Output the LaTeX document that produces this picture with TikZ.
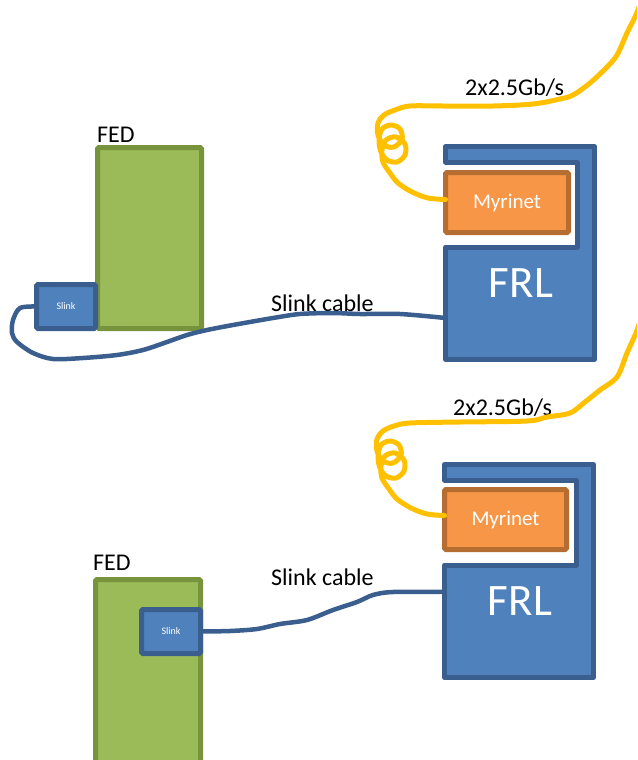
\documentclass[tikz,border=0pt]{standalone}
\usepackage{fontspec}
\setmainfont{Carlito}
\usetikzlibrary{calc}

\definecolor{fedfill}{HTML}{9BBB59}
\definecolor{fedline}{HTML}{77933C}
\definecolor{blufill}{HTML}{4F81BD}
\definecolor{bluline}{HTML}{3A5F8E}
\definecolor{orgfill}{HTML}{F79646}
\definecolor{orgline}{HTML}{B66D31}
\definecolor{fibre}{HTML}{FFC000}

\tikzset{
  fedbox/.style={draw=fedline, fill=fedfill, line width=5pt, rounded corners=1.5pt,
    inner sep=0pt, outer sep=0pt},
  slinkbox/.style={draw=bluline, fill=blufill, line width=5pt, rounded corners=1.5pt,
    inner sep=0pt, outer sep=0pt, minimum width=59pt, minimum height=44pt,
    text=white, font=\fontsize{10}{12}\selectfont},
  myrbox/.style={draw=orgline, fill=orgfill, line width=5pt, rounded corners=1.5pt,
    inner sep=0pt, outer sep=0pt, text=white, font=\fontsize{21}{24}\selectfont},
  frlshape/.style={draw=bluline, fill=blufill, line width=5pt, line join=round},
  frltext/.style={text=white, inner sep=0pt, font=\fontsize{45}{50}\selectfont},
  lbl/.style={inner sep=0pt, anchor=base west, font=\fontsize{24}{28}\selectfont},
  slinkcable/.style={draw=bluline, line width=4.5pt, line cap=round, line join=round},
  fibrecable/.style={draw=fibre, line width=5pt, line cap=round, line join=round}
}

\begin{document}
\begin{tikzpicture}[x=1pt, y=-1pt]
\useasboundingbox (0,0) rectangle (637,760);
\clip (0,0) rectangle (637,760);

% ---------------- upper set-up: Slink mounted beside the FED ----------------
\node[fedbox, minimum width=104pt, minimum height=181pt] (fedA) at (149.5,238) {};
\node[lbl] (fedAlbl) at (97,142) {FED};
\node[slinkbox] (slinkA) at (66,306.5) {Slink};

\draw[frlshape] (445.5,146.5) -- (594.5,146.5) -- (594.5,359.5) -- (445.5,359.5)
  -- (445.5,247) -- (577,247) -- (577,162) -- (445.5,162) -- cycle;
\node[frltext] (frlA) at (521,283) {FRL};
\coordinate (frlAin) at (445.5,318);
\node[myrbox, minimum width=123pt, minimum height=60pt] (myrA) at (507,202.5) {Myrinet};

\node[lbl] (cabAlbl) at (271,311) {Slink cable};
\node[lbl] (fibAlbl) at (465,95) {2x2.5Gb/s};

\draw[slinkcable] plot[smooth, tension=0.5] coordinates {
  (slinkA.west) (20,308) (13,320) (12,333) (17,342) (33,353) (53,359) (83,358)
  (117,355) (143,350) (167,342) (187,335) (207,330) (233,325) (273,318)
  (300,314) (333,313) (360,314) (400,314) (frlAin)};

\coordinate (fibAend) at (641,2);
\draw[fibrecable] plot[smooth, tension=0.55] coordinates {
  (fibAend) (635,17) (627,33) (617,55) (607,67) (590,83) (573,95) (560,99)
  (533,104) (493,106) (443,106) (410,106) (395,110) (384,115) (378,123)
  (378,135) (384,145) (394,147) (402,139) (400,129) (391,125) (382,129)
  (379,140) (381,152) (387,160) (397,162) (405,155) (405,144) (396,137)
  (386,140) (382,150) (383,162) (390,173) (398,183) (412,192) (428,198)
  ($(myrA.west)+(0,-3)$)};

% ---------------- lower set-up: Slink plugged into the FED ----------------
\node[fedbox, minimum width=105pt, minimum height=220pt] (fedB) at (148,689.5) {};
\node[lbl] (fedBlbl) at (93,570) {FED};
\node[slinkbox] (slinkB) at (171,631.5) {Slink};

\draw[frlshape] (444.5,464.5) -- (593.5,464.5) -- (593.5,677.5) -- (444.5,677.5)
  -- (444.5,565) -- (576,565) -- (576,480) -- (444.5,480) -- cycle;
\node[frltext] (frlB) at (520,601) {FRL};
\coordinate (frlBin) at (444.5,592);
\node[myrbox, minimum width=122pt, minimum height=60pt] (myrB) at (505.5,519.5) {Myrinet};

\node[lbl] (cabBlbl) at (271,585) {Slink cable};
\node[lbl] (fibBlbl) at (453,415) {2x2.5Gb/s};

\draw[slinkcable] plot[smooth, tension=0.5] coordinates {
  (slinkB.east) (230,631) (257,629) (280,624) (307,620) (333,610) (357,602)
  (373,595) (393,592) (frlBin)};

\coordinate (fibBend) at (641,318);
\draw[fibrecable] plot[smooth, tension=0.55] coordinates {
  (fibBend) (636,333) (627,353) (617,377) (600,390) (585,402) (570,413)
  (547,417) (527,421) (460,422) (410,423) (394,426) (383,431) (377,439)
  (377,451) (383,461) (393,463) (401,455) (399,445) (390,441) (381,445)
  (378,456) (380,468) (386,476) (396,478) (404,471) (404,460) (395,453)
  (385,456) (381,466) (382,478) (389,489) (397,499) (411,508) (427,514)
  ($(myrB.west)+(0,-4)$)};
\end{tikzpicture}
\end{document}
